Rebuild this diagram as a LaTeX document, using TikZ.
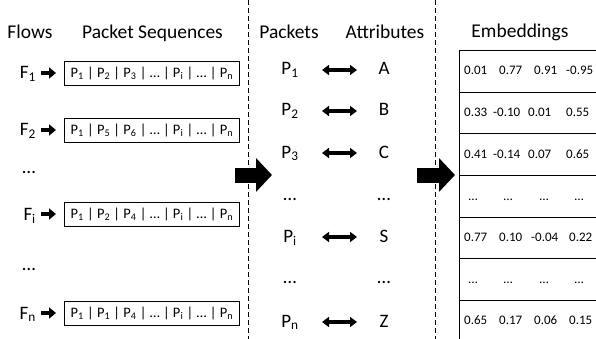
\documentclass[tikz,border=0pt]{standalone}
\usepackage{fontspec}
\setmainfont{Carlito}
\usetikzlibrary{arrows.meta}
\newcommand\sbx[1]{\textsubscript{#1}}
\begin{document}
\begin{tikzpicture}[x=1pt,y=-1pt,
  hdr/.style={font=\fontsize{19.5}{21}\selectfont, inner sep=0pt, anchor=base},
  lbl/.style={font=\fontsize{19}{20}\selectfont, inner sep=0pt, anchor=base},
  flbl/.style={font=\fontsize{19}{20}\selectfont, inner sep=0pt, anchor=base east},
  seqbox/.style={draw, line width=0.8pt, minimum width=175pt, minimum height=24pt, inner sep=0pt, font=\fontsize{14.5}{15}\selectfont, anchor=west},
  num/.style={font=\fontsize{13}{14}\selectfont, inner sep=0pt, anchor=base west},
  numc/.style={font=\fontsize{13}{14}\selectfont, inner sep=0pt, anchor=base},
  dbl/.style={line width=3.2pt, {Triangle[width=10pt,length=7pt]}-{Triangle[width=10pt,length=7pt]}},
  small/.style={line width=4.5pt, -{Triangle[width=11pt,length=7pt]}, shorten <=5pt, shorten >=8pt},
  big/.style={line width=15pt, -{Triangle[width=33pt,length=16pt]}},
  sep/.style={dash pattern=on 5pt off 3pt, line width=1pt},
  grid/.style={line width=0.9pt}
]
\useasboundingbox (0,0) rectangle (596,339);

% headers
\node[hdr] (hflows) at (30,39) {Flows};
\node[hdr] (hseq) at (152.5,39) {Packet Sequences};
\node[hdr] (hpk) at (289,39) {Packets};
\node[hdr] (hat) at (385,39) {Attributes};
\node[hdr] (hem) at (520,38) {Embeddings};

% separators
\coordinate (s1t) at (248,0); \coordinate (s1b) at (248,339);
\coordinate (s2t) at (435,0); \coordinate (s2b) at (435,339);
\draw[sep] (s1t) -- (s1b);
\draw[sep] (s2t) -- (s2b);

% flows
\node[flbl] (f1) at (36,79) {F\sbx{1}};
\node[flbl] (f2) at (36,136) {F\sbx{2}};
\node[lbl] (fd1) at (29,173) {…};
\node[flbl] (fi) at (36,220) {F\sbx{i}};
\node[lbl] (fd2) at (29,270) {…};
\node[flbl] (fn) at (36,319) {F\sbx{n}};

\node[seqbox] (b1) at (64,73) {P\sbx{1} | P\sbx{2} | P\sbx{3} | … | P\sbx{i} | … | P\sbx{n}};
\node[seqbox] (b2) at (64,130) {P\sbx{1} | P\sbx{5} | P\sbx{6} | … | P\sbx{i} | … | P\sbx{n}};
\node[seqbox] (bi) at (64,214) {P\sbx{1} | P\sbx{2} | P\sbx{4} | … | P\sbx{i} | … | P\sbx{n}};
\node[seqbox] (bn) at (64,313) {P\sbx{1} | P\sbx{1} | P\sbx{4} | … | P\sbx{i} | … | P\sbx{n}};

\draw[small] (f1.east |- b1.west) -- (b1.west);
\draw[small] (f2.east |- b2.west) -- (b2.west);
\draw[small] (fi.east |- bi.west) -- (bi.west);
\draw[small] (fn.east |- bn.west) -- (bn.west);

% big arrows
\coordinate (a1s) at (235,175); \coordinate (a1e) at (272,175);
\coordinate (a2s) at (417,175); \coordinate (a2e) at (455,175);
\draw[big] (a1s) -- (a1e);
\draw[big] (a2s) -- (a2e);

% packets and attributes
\node[lbl] (p1) at (290,75) {P\sbx{1}};
\node[lbl] (p2) at (290,116) {P\sbx{2}};
\node[lbl] (p3) at (290,158) {P\sbx{3}};
\node[lbl] (pd1) at (290,200) {…};
\node[lbl] (pi) at (290,242) {P\sbx{i}};
\node[lbl] (pd2) at (290,283) {…};
\node[lbl] (pn) at (290,327) {P\sbx{n}};

\node[lbl] (t1) at (384,75) {A};
\node[lbl] (t2) at (384,116) {B};
\node[lbl] (t3) at (384,158) {C};
\node[lbl] (td1) at (384,200) {…};
\node[lbl] (ti) at (384,242) {S};
\node[lbl] (td2) at (384,283) {…};
\node[lbl] (tn) at (384,327) {Z};

\foreach \n/\y in {1/70,2/111,3/153,i/237,n/322}{
  \coordinate (l\n) at (322,\y);
  \coordinate (r\n) at (357,\y);
  \draw[dbl] (l\n) -- (r\n);
}

% embeddings table
\coordinate (tt) at (459,50); \coordinate (tb) at (459,339);
\draw[grid] (tt) -- (tb);
\foreach \y [count=\k] in {50,92,133,175,217,258,300}{
  \coordinate (gl\k) at (459,\y);
  \coordinate (gr\k) at (596,\y);
  \draw[grid] (gl\k) -- (gr\k);
}

\node[num] (e11) at (464,75) {0.01};
\node[num] (e12) at (499,75) {0.77};
\node[num] (e13) at (534,75) {0.91};
\node[num] (e14) at (566,75) {-0.95};

\node[num] (e21) at (464,117) {0.33};
\node[num] (e22) at (493,117) {-0.10};
\node[num] (e23) at (528,117) {0.01};
\node[num] (e24) at (566,117) {0.55};

\node[num] (e31) at (464,158) {0.41};
\node[num] (e32) at (493,158) {-0.14};
\node[num] (e33) at (528,158) {0.07};
\node[num] (e34) at (566,158) {0.65};

\node[numc] (e41) at (473,200) {…};
\node[numc] (e42) at (508,200) {…};
\node[numc] (e43) at (544,200) {…};
\node[numc] (e44) at (579,200) {…};

\node[num] (e51) at (464,241) {0.77};
\node[num] (e52) at (499,241) {0.10};
\node[num] (e53) at (531,241) {-0.04};
\node[num] (e54) at (569,241) {0.22};

\node[numc] (e61) at (473,283) {…};
\node[numc] (e62) at (508,283) {…};
\node[numc] (e63) at (544,283) {…};
\node[numc] (e64) at (579,283) {…};

\node[num] (e71) at (464,324) {0.65};
\node[num] (e72) at (499,324) {0.17};
\node[num] (e73) at (534,324) {0.06};
\node[num] (e74) at (569,324) {0.15};
\end{tikzpicture}
\end{document}
